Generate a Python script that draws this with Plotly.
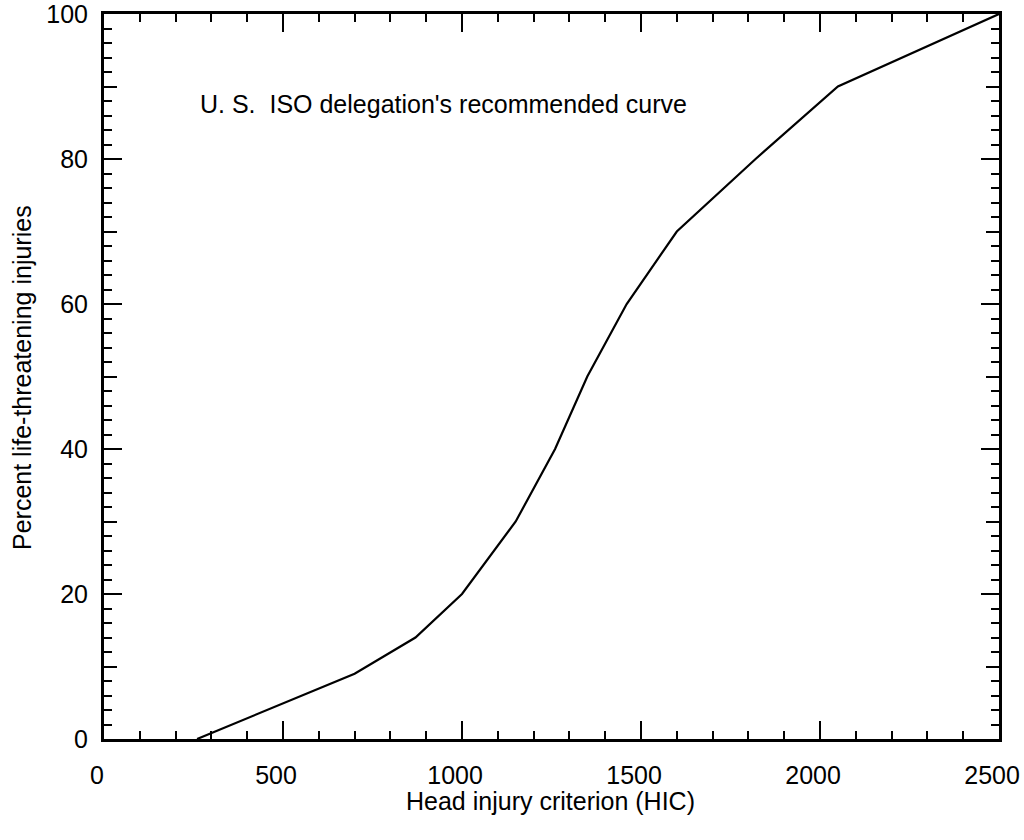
import plotly.graph_objects as go

hic = [260, 700, 870, 1000, 1150, 1260, 1350, 1460, 1600, 1820, 2050, 2500]
pct = [0, 9, 14, 20, 30, 40, 50, 60, 70, 80, 90, 100]

x_major = [0, 500, 1000, 1500, 2000, 2500]
y_major = [0, 20, 40, 60, 80, 100]
y_mid = [10, 30, 50, 70, 90]

FONT = "Liberation Sans, Arial, sans-serif"
FS = 25

L, R, T, B = 104, 999, 14, 739
PW, PH = R - L, B - T

# labels sit slightly left of their ticks in the reference
x_text = [f"{v}\u00a0\u00a0" for v in x_major]

fig = go.Figure()
fig.add_trace(go.Scatter(x=hic, y=pct, mode="lines",
                         line=dict(color="black", width=2.2), showlegend=False,
                         hoverinfo="skip"))

fig.update_layout(
    width=1024, height=840,
    margin=dict(l=L, r=1024 - R, t=T, b=840 - B),
    paper_bgcolor="white", plot_bgcolor="white",
    font=dict(family=FONT, size=FS, color="black"),
    xaxis=dict(range=[0, 2500], tickvals=x_major, ticktext=x_text, ticks="inside",
               ticklen=18, tickwidth=2, tickcolor="black", showline=True, linewidth=3,
               linecolor="black", mirror="ticks", showgrid=False, zeroline=False,
               ticklabelstandoff=12, automargin=False, ticklabeloverflow="allow",
               minor=dict(dtick=100, ticks="inside", ticklen=8, tickwidth=2,
                          tickcolor="black", showgrid=False)),
    yaxis=dict(range=[0, 100], tickvals=y_major, ticks="inside", ticklen=18,
               tickwidth=2, tickcolor="black", showline=True, linewidth=3,
               linecolor="black", mirror="ticks", showgrid=False, zeroline=False,
               ticklabelstandoff=8, automargin=False, ticklabeloverflow="allow",
               minor=dict(dtick=2, ticks="inside", ticklen=8, tickwidth=2,
                          tickcolor="black", showgrid=False)),
    yaxis2=dict(range=[0, 100], overlaying="y", tickvals=y_mid, ticks="inside",
                ticklen=13, tickwidth=2, tickcolor="black", showticklabels=False,
                showline=True, linewidth=3, linecolor="black", mirror="ticks",
                showgrid=False, zeroline=False, automargin=False),
)

# dummy trace to activate yaxis2
fig.add_trace(go.Scatter(x=[None], y=[None], yaxis="y2", showlegend=False,
                         hoverinfo="skip"))

fig.add_annotation(text="U. S.  ISO delegation's recommended curve",
                   xref="paper", yref="paper", x=(198 - L) / PW, y=(B - 104) / PH,
                   xanchor="left", yanchor="middle", showarrow=False,
                   font=dict(family=FONT, size=FS, color="black"))
fig.add_annotation(text="Head injury criterion (HIC)",
                   xref="paper", yref="paper", x=(550 - L) / PW, y=-(801 - B) / PH,
                   xanchor="center", yanchor="middle", showarrow=False,
                   font=dict(family=FONT, size=FS, color="black"))
fig.add_annotation(text="Percent life-threatening injuries",
                   xref="paper", yref="paper", x=-(L - 22) / PW, y=(B - 378) / PH,
                   xanchor="center", yanchor="middle", textangle=-90, showarrow=False,
                   font=dict(family=FONT, size=FS, color="black"))

fig.write_html("out.html")
